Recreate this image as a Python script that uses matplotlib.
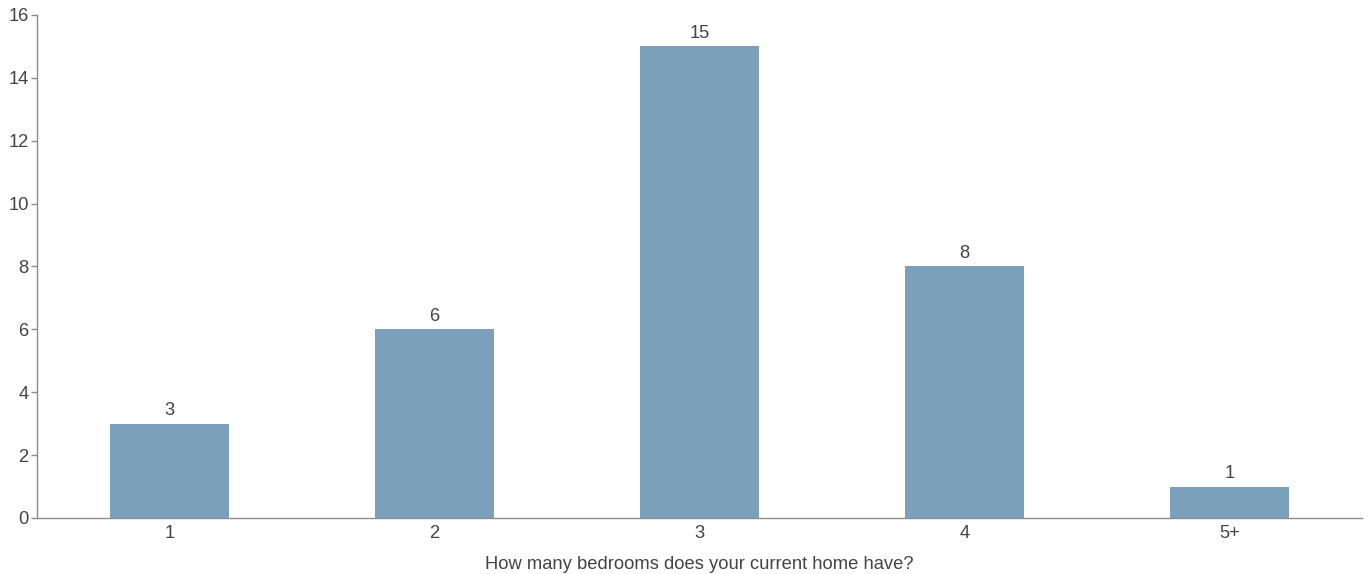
import matplotlib.pyplot as plt

plt.rcParams['font.family'] = ['Liberation Sans', 'DejaVu Sans']

categories = ['1', '2', '3', '4', '5+']
counts = [3, 6, 15, 8, 1]
y_ticks = [0, 2, 4, 6, 8, 10, 12, 14, 16]

bar_color = '#7ba0bc'
axis_color = '#8c8c8c'
text_color = '#444444'
fs = 13.2

fig = plt.figure(figsize=(13.7, 5.74), dpi=100)
ax = fig.add_axes([0.027, 0.0976, 0.9673, 0.8763])

x = range(len(categories))
bars = ax.bar(x, counts, width=0.45, color=bar_color, zorder=3)

for xi, v in zip(x, counts):
    ax.text(xi, v + 0.15, str(v), ha='center', va='bottom',
            fontsize=fs, color=text_color)

ax.set_xlim(-0.5, len(categories) - 0.5)
ax.set_ylim(0, 16)
ax.set_yticks(y_ticks)
ax.set_xticks(list(x))
ax.set_xticklabels(categories)

ax.tick_params(axis='y', length=4, width=1, color=axis_color,
               labelsize=fs, labelcolor=text_color, pad=2)
ax.tick_params(axis='x', length=0, labelsize=fs, labelcolor=text_color, pad=5)

for side in ['top', 'right']:
    ax.spines[side].set_visible(False)
for side in ['left', 'bottom']:
    ax.spines[side].set_color(axis_color)
    ax.spines[side].set_linewidth(1)

ax.set_xlabel('How many bedrooms does your current home have?',
              fontsize=fs, color=text_color, labelpad=10)

fig.savefig('out.png', dpi=100)
